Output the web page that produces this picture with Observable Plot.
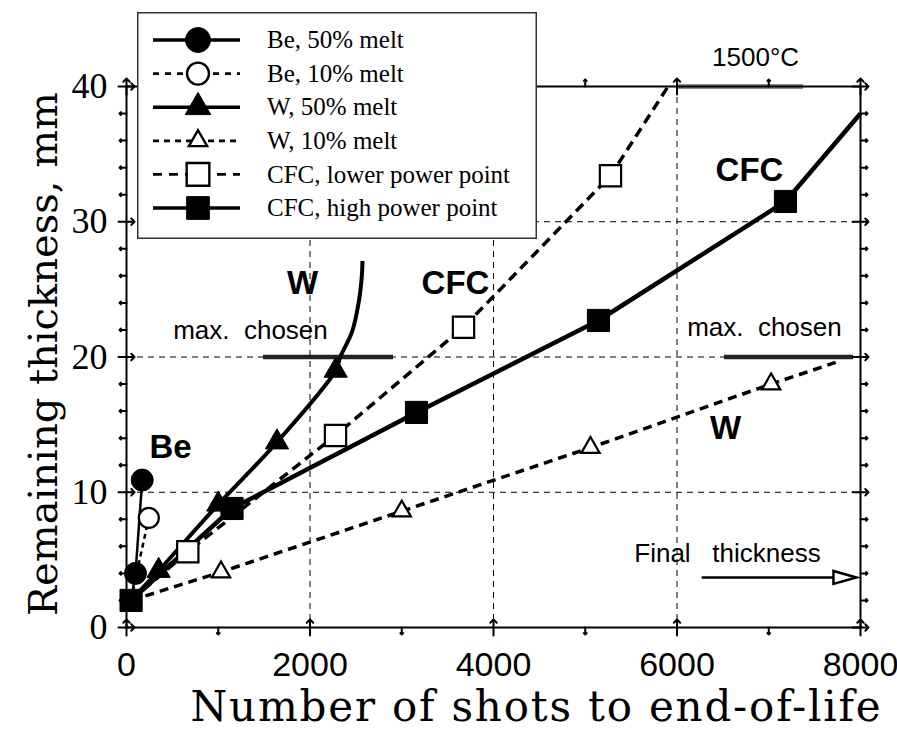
<!DOCTYPE html>
<html>
<head>
<meta charset="utf-8">
<script src="https://cdn.jsdelivr.net/npm/d3@7"></script>
<script src="https://cdn.jsdelivr.net/npm/@observablehq/plot@0.6"></script>
<style>
  html, body { margin: 0; padding: 0; background: #fff; }
  #wrap { position: relative; width: 897px; height: 731px; }
  #wrap > svg.plot { position: absolute; left: 0; top: 0; }
  #legend { position: absolute; left: 137px; top: 12px; }
</style>
</head>
<body>
<div id="wrap"></div>
<script>
// ---------------- data ----------------
const xTicksMajor = [0, 2000, 4000, 6000, 8000];
const xTicksMinor = [1000, 3000, 5000, 7000];
const yTicksMajor = [0, 10, 20, 30, 40];
const yTicksMinor = [2, 4, 6, 8, 12, 14, 16, 18, 22, 24, 26, 28, 32, 34, 36, 38];
const xGrid = [2000, 4000, 6000];
const yGrid = [10, 20, 30];

const seriesNames = ["Be, 50% melt", "Be, 10% melt", "W, 50% melt", "W, 10% melt",
                     "CFC, lower power point", "CFC, high power point"];

// line vertices
const be50X = [50, 98, 171];               const be50Y = [2.0, 4.0, 10.9];
const be10X = [50, 110, 243];              const be10Y = [2.0, 4.0, 8.1];
const w50X  = [50, 350, 1000, 1640, 2280, 2330, 2460, 2532, 2565, 2572];
const w50Y  = [2.0, 4.2, 9.1, 13.7, 19.0, 20.0, 21.9, 24.1, 26.0, 27.1];
const w10X  = [50, 1030, 3000, 5057, 7026, 7730];
const w10Y  = [2.0, 4.1, 8.6, 13.3, 18.0, 19.6];
const cfcLoX = [50, 668, 2278, 3673, 5275, 5893];
const cfcLoY = [2.0, 5.6, 14.2, 22.2, 33.4, 39.9];
const cfcHiX = [50, 1150, 3161, 5144, 7182, 8000];
const cfcHiY = [2.0, 8.8, 15.9, 22.7, 31.5, 38.0];

// marker points
const be50MkX = [98, 171];                 const be50MkY = [4.0, 10.9];
const be10MkX = [243];                     const be10MkY = [8.1];
const w50MkX  = [350, 1000, 1640, 2280];   const w50MkY  = [4.2, 9.1, 13.7, 19.0];
const w10MkX  = [1030, 3000, 5057, 7026];  const w10MkY  = [4.1, 8.6, 13.3, 18.0];
const cfcLoMkX = [668, 2278, 3673, 5275];  const cfcLoMkY = [5.6, 14.2, 22.2, 33.4];
const cfcHiMkX = [50, 1150, 3161, 5144, 7182]; const cfcHiMkY = [2.0, 8.8, 15.9, 22.7, 31.5];

// annotation lines
const maxChosenLeft = [1493, 2910];  const maxChosenRight = [6518, 7924]; const maxChosenY = 20;
const hotLine = [6002, 7379];        const hotY = 40;
const finalArrowX = [6274, 7956];    const finalArrowY = 3.7;

// annotation texts
const annTexts = [
  {t: "W",   x: 1918, y: 24.65, bold: true},
  {t: "CFC", x: 3586, y: 24.65, bold: true},
  {t: "CFC", x: 6790, y: 33.0,  bold: true},
  {t: "Be",  x: 480,  y: 12.5,  bold: true},
  {t: "W",   x: 6529, y: 13.95, bold: true},
  {t: "1500°C", x: 6856, y: 41.5, bold: false},
  {t: "max.\u00a0 chosen", x: 1351, y: 21.3, bold: false},
  {t: "max.\u00a0 chosen", x: 6953, y: 21.55, bold: false},
  {t: "Final\u00a0\u00a0 thickness", x: 6550, y: 4.82, bold: false}
];

const xLabel = "Number of shots to end-of-life";
const yLabel = "Remaining thickness, mm";

// ---------------- helpers ----------------
const zip = (X, Y) => X.map((x, i) => ({x, y: Y[i]}));
const SANS = "'Liberation Sans', Arial, Helvetica, sans-serif";
const SERIF = "'Liberation Serif', 'Times New Roman', serif";
const WIDESERIF = "'DejaVu Serif', serif";

const styles = [
  {line: zip(be50X, be50Y),   mk: zip(be50MkX, be50MkY),   dash: null,   lw: 2.5, symbol: "circle",   fill: "black", r: 11},
  {line: zip(be10X, be10Y),   mk: zip(be10MkX, be10MkY),   dash: "5,4",  lw: 2.5, symbol: "circle",   fill: "white", r: 10},
  {line: zip(w50X, w50Y),     mk: zip(w50MkX, w50MkY),     dash: null,   lw: 4,   symbol: "triangle", fill: "black", r: 8.6, curve: "catmull-rom"},
  {line: zip(w10X, w10Y),     mk: zip(w10MkX, w10MkY),     dash: "9,6",  lw: 3.5, symbol: "triangle", fill: "white", r: 6.8},
  {line: zip(cfcLoX, cfcLoY), mk: zip(cfcLoMkX, cfcLoMkY), dash: "10,6", lw: 3.5, symbol: "square",   fill: "white", r: 12},
  {line: zip(cfcHiX, cfcHiY), mk: zip(cfcHiMkX, cfcHiMkY), dash: null,   lw: 4.5, symbol: "square",   fill: "black", r: 12.5}
];

const arrowHead = {
  draw(ctx) { ctx.moveTo(0, 0); ctx.lineTo(-23, -6.5); ctx.lineTo(-23, 6.5); ctx.closePath(); }
};

const marks = [];
// grid
marks.push(Plot.gridX(xGrid, {stroke: "black", strokeOpacity: 1, strokeWidth: 1, strokeDasharray: "6,5"}));
marks.push(Plot.gridY(yGrid, {stroke: "black", strokeOpacity: 1, strokeWidth: 1, strokeDasharray: "6,5"}));

// annotation lines
marks.push(Plot.ruleY([maxChosenY], {x1: maxChosenLeft[0], x2: maxChosenLeft[1], stroke: "#222", strokeWidth: 4.5}));
marks.push(Plot.ruleY([maxChosenY], {x1: maxChosenRight[0], x2: maxChosenRight[1], stroke: "#222", strokeWidth: 4.5}));
marks.push(Plot.ruleY([hotY], {x1: hotLine[0], x2: hotLine[1], stroke: "#8a8a8a", strokeWidth: 5}));
marks.push(Plot.ruleY([finalArrowY], {x1: finalArrowX[0], x2: finalArrowX[1] - 250, stroke: "black", strokeWidth: 2.5}));
marks.push(Plot.dot([{x: finalArrowX[1], y: finalArrowY}], {x: "x", y: "y", symbol: arrowHead, fill: "white", stroke: "black", strokeWidth: 2.5}));

// series lines
for (const s of styles) {
  marks.push(Plot.line(s.line, {x: "x", y: "y", stroke: "black", strokeWidth: s.lw,
    strokeDasharray: s.dash || undefined, curve: s.curve || "linear", strokeLinecap: "butt"}));
}
// markers
for (const s of [styles[1], styles[0], styles[3], styles[2], styles[4], styles[5]]) {
  marks.push(Plot.dot(s.mk, {x: "x", y: "y", symbol: s.symbol, r: s.r, fill: s.fill,
    stroke: "black", strokeWidth: s.fill === "white" ? 2.2 : 1}));
}

// annotation texts
marks.push(Plot.text(annTexts.filter(d => d.bold), {x: "x", y: "y", text: "t", lineAnchor: "bottom",
  fontFamily: SANS, fontWeight: "bold", fontSize: 33, fill: "black"}));
marks.push(Plot.text(annTexts.filter(d => !d.bold), {x: "x", y: "y", text: "t", lineAnchor: "bottom",
  fontFamily: SANS, fontSize: 26, fill: "black"}));

// frame
marks.push(Plot.frame({stroke: "black", strokeWidth: 2}));

// ticks: majors cross the frame, minors point outward
marks.push(Plot.vectorX(xTicksMajor, {frameAnchor: "bottom", length: 16, anchor: "middle", stroke: "black", strokeWidth: 2}));
marks.push(Plot.vectorX(xTicksMajor, {frameAnchor: "top", length: 16, anchor: "middle", stroke: "black", strokeWidth: 2}));
marks.push(Plot.vectorX(xTicksMinor, {frameAnchor: "bottom", length: 7, anchor: "start", rotate: 180, stroke: "black", strokeWidth: 2}));
marks.push(Plot.vectorX(xTicksMinor, {frameAnchor: "top", length: 7, anchor: "start", rotate: 0, stroke: "black", strokeWidth: 2}));
marks.push(Plot.vectorY(yTicksMajor, {frameAnchor: "left", length: 16, anchor: "middle", rotate: 90, stroke: "black", strokeWidth: 2}));
marks.push(Plot.vectorY(yTicksMajor, {frameAnchor: "right", length: 16, anchor: "middle", rotate: 90, stroke: "black", strokeWidth: 2}));
marks.push(Plot.vectorY(yTicksMinor, {frameAnchor: "left", length: 7, anchor: "start", rotate: -90, stroke: "black", strokeWidth: 2}));
marks.push(Plot.vectorY(yTicksMinor, {frameAnchor: "right", length: 7, anchor: "start", rotate: 90, stroke: "black", strokeWidth: 2}));

// tick labels
marks.push(Plot.axisX({anchor: "bottom", ticks: xTicksMajor, tickSize: 0, tickPadding: 24, label: null,
  tickFormat: d => String(d), fontSize: 34, fontFamily: SANS, fill: "black"}));
marks.push(Plot.axisY({anchor: "left", ticks: yTicksMajor, tickSize: 0, tickPadding: 19, label: null,
  tickFormat: d => String(d), fontSize: 36, fontFamily: SERIF, fill: "black"}));

// axis titles
marks.push(Plot.text([xLabel], {frameAnchor: "bottom", dx: 43, dy: 93, lineAnchor: "bottom",
  textAnchor: "middle", fontSize: 42, fontFamily: WIDESERIF, fill: "black"}));
marks.push(Plot.text([yLabel], {frameAnchor: "left", dx: -82, dy: -3, rotate: -90, textAnchor: "middle",
  fontSize: 40, fontFamily: WIDESERIF, fill: "black"}));

const chart = Plot.plot({
  width: 897, height: 731,
  marginLeft: 126, marginRight: 37, marginTop: 86, marginBottom: 104,
  x: {domain: [0, 8000], axis: null},
  y: {domain: [0, 40], axis: null},
  style: {background: "white", color: "black", overflow: "visible"},
  marks
});
chart.classList.add("plot");
// widen the x-axis title slightly to match the original lettering
d3.select(chart).selectAll("text").filter(function() { return this.textContent === xLabel; })
  .style("letter-spacing", "1.8px");
const wrap = document.getElementById("wrap");
wrap.appendChild(chart);

// ---------------- legend (overlay box inside the chart) ----------------
const LW = 400, LH = 227;
const leg = d3.select(wrap).append("svg").attr("id", "legend")
  .attr("width", LW).attr("height", LH);
leg.append("rect").attr("x", 0.75).attr("y", 0.75).attr("width", LW - 1.5).attr("height", LH - 1.5)
  .attr("fill", "white").attr("stroke", "#333").attr("stroke-width", 1.5);
const legendDash = [null, "6,6", null, "6,5", "9,7", null];
const legendSymbols = {circle: d3.symbolCircle, triangle: d3.symbolTriangle, square: d3.symbolSquare};
const legendR = [12.5, 11, 9.5, 6.8, 12.8, 12.8];
seriesNames.forEach((name, i) => {
  const s = styles[i];
  const cy = 28 + i * 33.6;
  const g = leg.append("g").attr("transform", `translate(0,${cy})`);
  g.append("line").attr("x1", 16).attr("x2", 103).attr("y1", 0).attr("y2", 0)
    .attr("stroke", "black").attr("stroke-width", s.dash ? 2.8 : 3.5)
    .attr("stroke-dasharray", legendDash[i]);
  g.append("path").attr("transform", "translate(61,0)")
    .attr("d", d3.symbol(legendSymbols[s.symbol], Math.PI * legendR[i] * legendR[i])())
    .attr("fill", s.fill).attr("stroke", "black").attr("stroke-width", s.fill === "white" ? 2.4 : 1);
  g.append("text").attr("x", 130).attr("y", 0).attr("dy", "0.33em")
    .attr("font-family", SERIF).attr("font-size", 25).attr("fill", "black").text(name);
});
</script>
</body>
</html>
